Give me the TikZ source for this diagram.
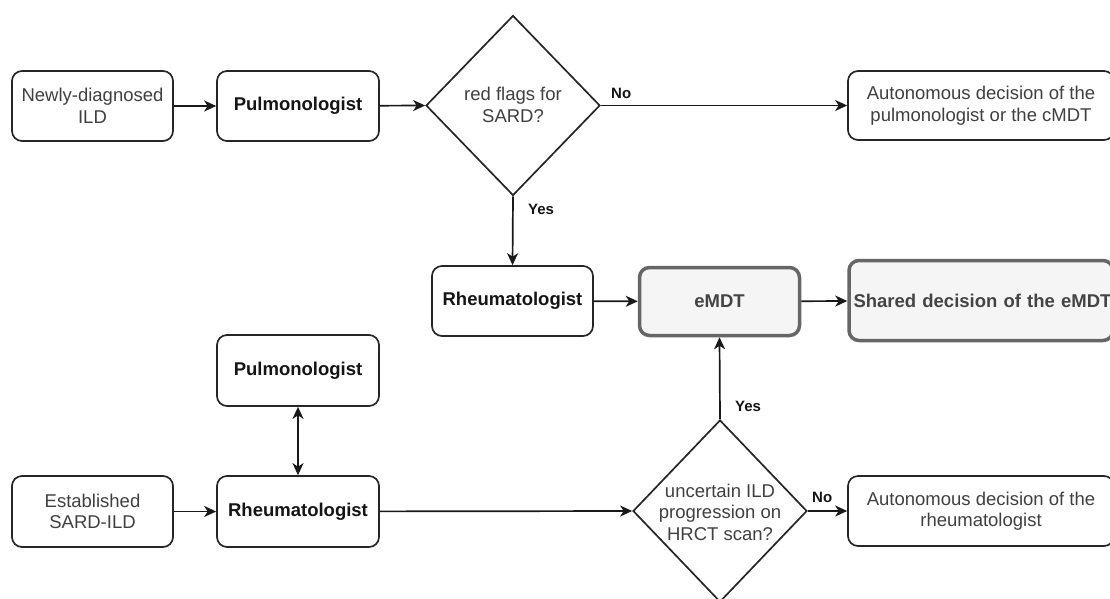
\documentclass[tikz,border=0pt]{standalone}
\usepackage{fontspec}
\setmainfont{Liberation Sans}
\usetikzlibrary{shapes.geometric,arrows.meta}
\definecolor{txtgray}{HTML}{404040}
\definecolor{boldtxt}{HTML}{151515}
\definecolor{emfill}{HTML}{F5F5F5}
\definecolor{emline}{HTML}{666666}
\tikzset{
  box/.style={draw=black!85, line width=1.7pt, rounded corners=10pt, fill=white,
    inner sep=0pt, align=center, font=\fontsize{18.5}{21.5}\selectfont, text=txtgray},
  boldbox/.style={box, font=\fontsize{18.5}{21.5}\selectfont\bfseries, text=boldtxt},
  embox/.style={box, draw=emline, fill=emfill, line width=3.5pt,
    font=\fontsize{18.5}{21.5}\selectfont\bfseries, text=boldtxt!80!white},
  dia/.style={draw=black!85, line width=1.7pt, diamond, inner sep=0pt},
  diatext/.style={align=center, font=\fontsize{18.5}{21.5}\selectfont, text=txtgray, inner sep=0pt},
  arr/.style={line width=1.7pt, draw=black!90, -{Stealth[length=12pt,width=11pt,inset=3.5pt]}},
  darr/.style={line width=1.7pt, draw=black!90, {Stealth[length=12pt,width=11pt,inset=3.5pt]}-{Stealth[length=12pt,width=11pt,inset=3.5pt]}},
  lbl/.style={font=\fontsize{15}{17}\selectfont\bfseries, text=boldtxt, inner sep=0pt}
}
\begin{document}
\begin{tikzpicture}[x=1pt,y=-1pt]
\useasboundingbox (0,0) rectangle (1110,598);
\clip (0,0) rectangle (1110,598);
\fill[white] (0,0) rectangle (1110,598);

% top row
\node[box, minimum width=161pt, minimum height=70pt] (newly) at (92.5,106) {Newly-diagnosed\\ILD};
\node[boldbox, minimum width=162pt, minimum height=70pt] (pulm1) at (298,106) {Pulmonologist};
\node[dia, minimum width=174pt, minimum height=180pt] (d1) at (513,105.5) {};
\node[diatext] (d1t) at (513,105) {red flags for\\SARD?};
\node[box, minimum width=266pt, minimum height=69pt] (auto1) at (981,105.5) {Autonomous decision of the\\pulmonologist or the cMDT};

% middle row
\node[boldbox, minimum width=161pt, minimum height=70pt] (rheum1) at (512.5,301) {Rheumatologist};
\node[embox, minimum width=160pt, minimum height=68pt] (emdt) at (719.5,301.5) {eMDT};
\node[embox, minimum width=264pt, minimum height=80pt, text width=264pt] (shared) at (981,300.5) {\hspace*{3pt}Shared decision of the eMDT};

% lower part
\node[boldbox, minimum width=162pt, minimum height=71pt] (pulm2) at (298,370.5) {Pulmonologist};
\node[box, minimum width=161pt, minimum height=71pt] (estab) at (92.5,511.5) {Established\\SARD-ILD};
\node[boldbox, minimum width=162pt, minimum height=71pt] (rheum2) at (298,511.5) {Rheumatologist};
\node[dia, minimum width=174pt, minimum height=182pt] (d2) at (720,511) {};
\node[diatext] (d2t) at (720,512) {uncertain ILD\\progression on\\HRCT scan?};
\node[box, minimum width=266pt, minimum height=70pt] (auto2) at (981,511) {Autonomous decision of the\\rheumatologist};

% connectors
\draw[arr] (newly) -- (pulm1);
\draw[arr] (pulm1) -- (d1.west);
\draw[arr] (d1.east) -- (auto1.west);
\draw[arr] (d1.south) -- (rheum1.north);
\draw[arr] (rheum1) -- (emdt);
\draw[arr] (emdt) -- (shared);
\draw[darr] (pulm2) -- (rheum2);
\draw[arr] (estab) -- (rheum2);
\draw[arr] (rheum2) -- (d2.west);
\draw[arr] (d2.north) -- (emdt.south);
\draw[arr] (d2.east) -- (auto2.west);

% labels
\node[lbl, anchor=west] (no1) at (611,93) {No};
\node[lbl, anchor=west] (yes1) at (528,209) {Yes};
\node[lbl, anchor=west] (yes2) at (735,406) {Yes};
\node[lbl, anchor=west] (no2) at (812,497) {No};
\end{tikzpicture}
\end{document}
